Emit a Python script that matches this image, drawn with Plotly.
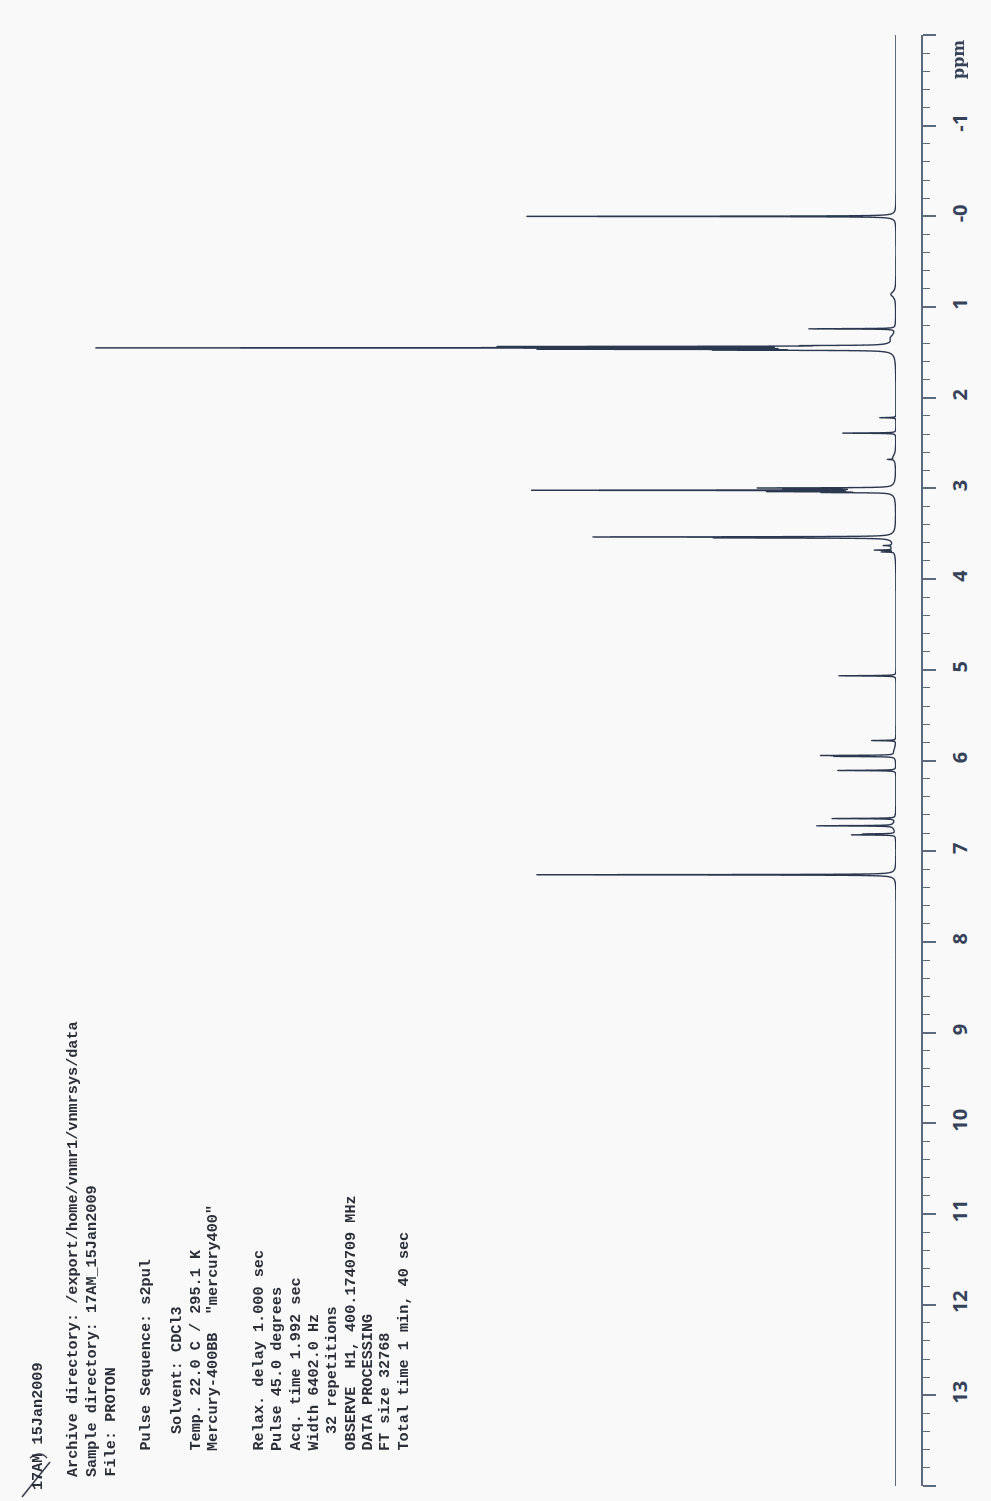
import numpy as np
import plotly.graph_objects as go

# ---- 1H NMR peak list (chemical shift in ppm, peak height in plot units) ----
peak_ppm = [0.00, 1.24, 1.425, 1.435, 1.450, 1.465, 1.475, 2.22, 2.39, 2.68,
            2.995, 3.005, 3.020, 3.035, 3.045, 3.535, 3.545, 3.63, 3.68, 3.70,
            5.066, 5.78, 5.945, 5.955, 6.11, 6.64, 6.72, 6.81, 6.82, 7.26]
peak_height = [366, 86, 60, 365, 772, 320, 150, 16, 53, 6,
               125, 90, 351, 110, 60, 288, 160, 8, 18, 12,
               57, 24, 71, 57, 58, 63, 76, 30, 42, 355]
peak_hwhm = 0.0025

# broad shoulders under the multiplets
hump_ppm = [0.00, 0.86, 1.34, 1.45, 2.66, 3.02, 3.54, 3.65, 5.9, 6.72, 7.26]
hump_height = [3, 5, 4, 7, 3, 6, 5, 4, 2, 3, 4]
hump_hwhm = [0.03, 0.035, 0.04, 0.04, 0.04, 0.04, 0.04, 0.05, 0.05, 0.05, 0.03]

# ppm scale
ppm_min, ppm_max = -2.0, 14.0
major_ticks = list(range(-2, 15))
major_labels = ["" if v in (-2, 14) else ("-0" if v == 0 else str(v)) for v in major_ticks]

# acquisition parameters printed on the sheet
header_line = "17AM 15Jan2009"
param_lines = [
    "Archive directory: /export/home/vnmr1/vnmrsys/data",
    "Sample directory: 17AM_15Jan2009",
    "File: PROTON",
    "Pulse Sequence: s2pul",
    "Solvent: CDCl3",
    "Temp. 22.0 C / 295.1 K",
    "Mercury-400BB  \"mercury400\"",
    "Relax. delay 1.000 sec",
    "Pulse 45.0 degrees",
    "Acq. time 1.992 sec",
    "Width 6402.0 Hz",
    "32 repetitions",
    "OBSERVE  H1, 400.1740709 MHz",
    "DATA PROCESSING",
    "FT size 32768",
    "Total time 1 min, 40 sec",
]
param_col_px = [73, 92, 110, 145, 177, 195, 213, 258, 277, 295, 313, 332, 350, 367, 385, 403]
param_start_px = [1479, 1479, 1479, 1453, 1436, 1453, 1453, 1453, 1453, 1453, 1453, 1436,
                  1453, 1453, 1453, 1453]

# ---- build the spectrum trace from the peak list ----
grid = np.arange(ppm_min, ppm_max + 1e-9, 0.0008)
grid = np.unique(np.concatenate([grid, np.array(peak_ppm)]))
intensity = np.zeros_like(grid)
for c, h in zip(peak_ppm, peak_height):
    intensity += h * peak_hwhm**2 / ((grid - c) ** 2 + peak_hwhm**2)
for c, h, w in zip(hump_ppm, hump_height, hump_hwhm):
    intensity += h * w**2 / ((grid - c) ** 2 + w**2)

W, H = 991, 1501
ink = "#2c3850"
axis_col = "#5c6a7e"
text_col = "#2a2f3a"

fig = go.Figure()
fig.add_trace(go.Scattergl(
    x=intensity, y=grid, mode="lines",
    line=dict(color=ink, width=1.4),
    hoverinfo="skip", showlegend=False,
))

y_top_px, y_bot_px = 35, 1486
fig.update_layout(
    width=W, height=H,
    margin=dict(l=0, r=0, t=0, b=0),
    paper_bgcolor="#f9f9f9",
    plot_bgcolor="#f9f9f9",
    xaxis=dict(domain=[0, 896 / W], range=[896, 0], visible=False),
    yaxis=dict(
        domain=[1 - y_bot_px / H, 1 - y_top_px / H],
        range=[ppm_max, ppm_min],
        anchor="free", position=922 / W, side="right",
        showline=True, linecolor=axis_col, linewidth=1.5,
        showgrid=False, zeroline=False,
        ticks="outside", ticklen=13, tickwidth=1.5, tickcolor=axis_col,
        tickvals=major_ticks, ticktext=major_labels,
        tickangle=-90, ticklabelstandoff=7,
        tickfont=dict(family="Open Sans", size=20, color="#35425a", weight=700),
        minor=dict(dtick=0.2, ticks="outside", ticklen=7, tickwidth=1.2, tickcolor=axis_col,
                   showgrid=False),
    ),
)

annotations = []
for line, xc, ys in zip(param_lines, param_col_px, param_start_px):
    annotations.append(dict(
        text=line, xref="paper", yref="paper",
        x=xc / W, y=1 - ys / H, xanchor="center", yanchor="bottom",
        textangle=-90, showarrow=False,
        font=dict(family="Liberation Mono", size=15.2, color=text_col, weight=700),
    ))
annotations.append(dict(
    text=header_line, xref="paper", yref="paper",
    x=38 / W, y=1 - 1492 / H, xanchor="center", yanchor="bottom",
    textangle=-90, showarrow=False,
    font=dict(family="Liberation Mono", size=15.2, color=text_col, weight=700),
))
annotations.append(dict(
    text="<b>ppm</b>", xref="paper", yref="paper",
    x=959 / W, y=1 - 60 / H, xanchor="center", yanchor="middle",
    textangle=-90, showarrow=False,
    font=dict(family="DejaVu Serif", size=16, color="#35425a"),
))
fig.update_layout(annotations=annotations)

# hand-written strike-through over the sample label
fig.add_shape(type="line", xref="paper", yref="paper",
              x0=22 / W, y0=1 - 1497 / H, x1=50 / W, y1=1 - 1462 / H,
              line=dict(color="#3a3f50", width=1.6))
fig.add_shape(type="path", xref="paper", yref="paper",
              path=f"M {30/W},{1-1458/H} Q {40/W},{1-1450/H} {47/W},{1-1458/H}",
              line=dict(color="#3a3f50", width=1.4))

fig.write_html("out.html")
